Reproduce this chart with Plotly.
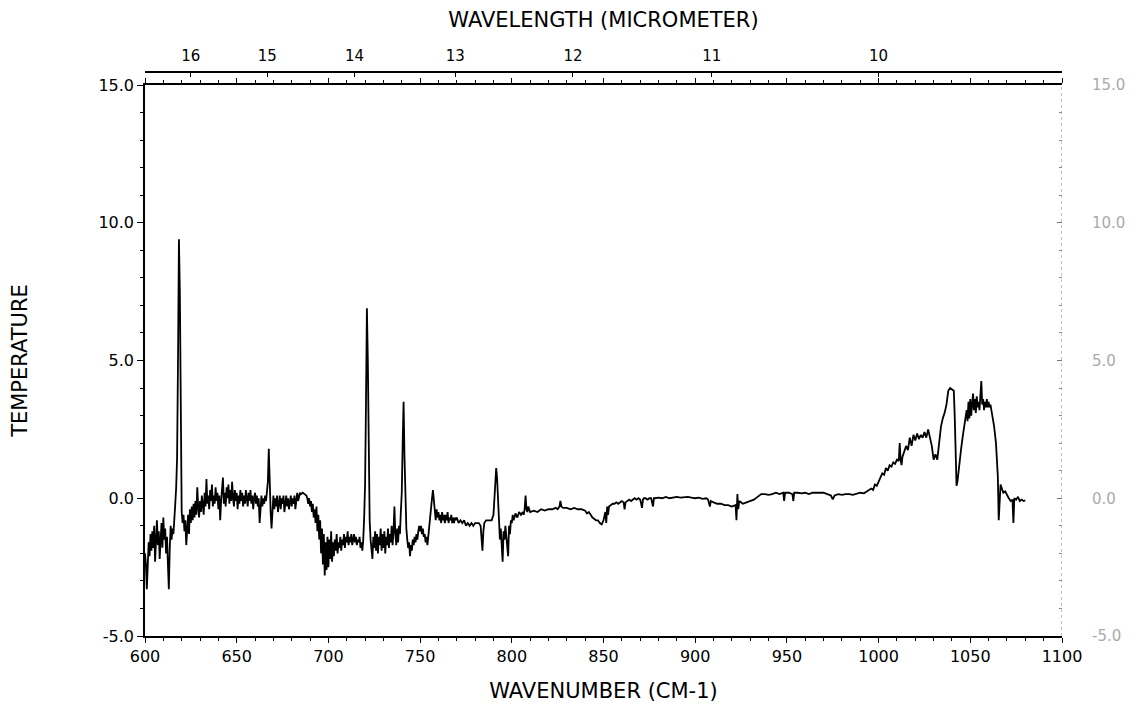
import plotly.graph_objects as go

# ---- data (wavenumber cm-1, temperature) ----
seg_600_640 = [
    (600.0, -2.0), (600.5, -2.4), (601.0, -3.3), (601.5, -2.2), (602.0, -1.6), (602.5, -2.1),
    (603.0, -1.3), (603.5, -1.9), (604.0, -1.2), (604.5, -1.8), (605.0, -1.0), (605.5, -2.3),
    (606.0, -1.4), (606.5, -0.8), (607.0, -1.7), (607.5, -1.2), (608.0, -2.2), (608.5, -1.3),
    (609.0, -0.9), (609.5, -1.8), (610.0, -0.7), (610.5, -1.5), (611.0, -1.1), (611.5, -2.0),
    (612.0, -1.4), (612.5, -2.4), (613.0, -3.3), (613.5, -1.8), (614.0, -1.0), (614.5, -1.5),
    (615.0, -1.1), (615.5, -1.3), (616.0, -0.9), (616.5, -0.2), (617.0, 0.4), (617.5, 1.5),
    (618.0, 5.0), (618.5, 9.4), (619.0, 7.5), (619.5, 3.0), (620.0, -0.5), (620.5, -0.9),
    (621.0, -0.6), (621.5, -1.2), (622.0, -0.8), (622.5, -1.7), (623.0, -1.1), (623.5, -0.6),
    (624.0, -1.3), (624.5, -0.4), (625.0, -0.9), (625.5, -0.3), (626.0, -0.8), (626.5, -0.2),
    (627.0, -0.7), (627.5, -0.1), (628.0, -0.6), (628.5, 0.4), (629.0, -0.3), (629.5, -0.7),
    (630.0, -0.1), (630.5, -0.5), (631.0, 0.1), (631.5, -0.4), (632.0, -0.6), (632.5, 0.2),
    (633.0, -0.3), (633.5, 0.7), (634.0, -0.2), (634.5, 0.1), (635.0, -0.4), (635.5, 0.3),
    (636.0, -0.1), (636.5, 0.5), (637.0, -0.3), (637.5, 0.1), (638.0, -0.2), (638.5, 0.4),
    (639.0, -0.1), (639.5, 0.2),
]
seg_640_690 = [
    (640.0, -0.4), (640.5, 0.1), (641.0, -0.8), (641.5, -0.1), (642.0, 0.3), (642.5, 0.75),
    (643.0, -0.2), (643.5, 0.2), (644.0, -0.3), (644.5, 0.4), (645.0, 0.0), (645.5, 0.5),
    (646.0, -0.2), (646.5, 0.3), (647.0, -0.1), (647.5, 0.6), (648.0, 0.0), (648.5, -0.3),
    (649.0, 0.3), (649.5, -0.1), (650.0, 0.2), (650.5, -0.4), (651.0, 0.1), (651.5, -0.2),
    (652.0, 0.3), (652.5, -0.1), (653.0, 0.2), (653.5, -0.3), (654.0, 0.1), (654.5, -0.2),
    (655.0, 0.3), (655.5, 0.0), (656.0, -0.3), (656.5, 0.2), (657.0, -0.1), (657.5, 0.3),
    (658.0, -0.2), (658.5, 0.1), (659.0, -0.4), (659.5, 0.0), (660.0, 0.2), (660.5, -0.2),
    (661.0, 0.1), (661.5, -0.3), (662.0, 0.0), (662.5, -0.9), (663.0, -0.2), (663.5, 0.1),
    (664.0, -0.3), (664.5, 0.0), (665.0, -0.2), (665.5, 0.1), (666.0, -0.1), (666.5, 0.2),
    (667.0, 0.6), (667.5, 1.8), (668.0, 0.3), (668.5, -0.5), (669.0, -1.1), (669.5, -0.3),
    (670.0, 0.1), (670.5, -0.4), (671.0, 0.0), (671.5, -0.3), (672.0, 0.1), (672.5, -0.5),
    (673.0, -0.1), (673.5, 0.1), (674.0, -0.4), (674.5, 0.0), (675.0, -0.2), (675.5, 0.1),
    (676.0, -0.5), (676.5, -0.1), (677.0, 0.1), (677.5, -0.3), (678.0, 0.0), (678.5, -0.4),
    (679.0, -0.1), (679.5, 0.1), (680.0, -0.3), (680.5, 0.0), (681.0, -0.2), (681.5, 0.1),
    (682.0, -0.4), (682.5, 0.0), (683.0, 0.2), (683.5, -0.1), (684.0, 0.1), (684.5, 0.2),
    (685.0, 0.15), (686.0, 0.2), (687.0, 0.15), (688.0, 0.1), (688.5, 0.0), (689.0, -0.2),
    (689.5, 0.0),
]
seg_690_740 = [
    (690.0, -0.3), (690.5, -0.1), (691.0, -0.5), (691.5, -0.2), (692.0, -0.7), (692.5, -0.4),
    (693.0, -0.9), (693.5, -0.3), (694.0, -1.2), (694.5, -0.6), (695.0, -1.5), (695.5, -0.8),
    (696.0, -2.0), (696.5, -1.1), (697.0, -2.4), (697.5, -1.3), (698.0, -2.8), (698.5, -1.6),
    (699.0, -2.6), (699.5, -1.4), (700.0, -2.5), (700.5, -1.5), (701.0, -2.2), (701.5, -1.2),
    (702.0, -2.3), (702.5, -1.6), (703.0, -2.1), (703.5, -1.5), (704.0, -1.9), (704.5, -1.3),
    (705.0, -2.0), (705.5, -1.6), (706.0, -1.8), (706.5, -1.4), (707.0, -1.9), (707.5, -1.5),
    (708.0, -1.7), (708.5, -1.3), (709.0, -1.8), (709.5, -1.4), (710.0, -1.6), (710.5, -1.2),
    (711.0, -1.7), (711.5, -1.4), (712.0, -1.6), (712.5, -1.3), (713.0, -1.7), (713.5, -1.5),
    (714.0, -1.3), (714.5, -1.6), (715.0, -1.4), (715.5, -1.7), (716.0, -1.5), (716.5, -1.6),
    (717.0, -1.4), (717.5, -1.8), (718.0, -1.6), (718.5, -1.9), (719.0, -1.5), (719.5, -0.7),
    (720.0, 0.5), (720.5, 3.5), (721.0, 6.9), (721.5, 5.0), (722.0, 1.0), (722.5, -0.8),
    (723.0, -1.5), (723.5, -1.9), (724.0, -2.2), (724.5, -1.4), (725.0, -1.8), (725.5, -1.2),
    (726.0, -1.9), (726.5, -1.3), (727.0, -2.0), (727.5, -1.4), (728.0, -1.7), (728.5, -1.1),
    (729.0, -1.9), (729.5, -1.3), (730.0, -1.8), (730.5, -1.2), (731.0, -2.0), (731.5, -1.4),
    (732.0, -1.7), (732.5, -1.1), (733.0, -1.8), (733.5, -1.3), (734.0, -1.6), (734.5, -1.0),
    (735.0, -1.7), (735.5, -1.2), (736.0, -0.3), (736.5, -1.3), (737.0, -1.7), (737.5, -1.1),
    (738.0, -1.6), (738.5, -1.0), (739.0, -1.3), (739.5, -0.5),
]
seg_740_800 = [
    (740.0, 0.2), (740.5, 2.0), (741.0, 3.5), (741.5, 1.5), (742.0, -0.5), (742.5, -1.1),
    (743.0, -1.5), (743.5, -1.8), (744.0, -1.6), (744.5, -2.1), (745.0, -1.7), (745.5, -1.9),
    (746.0, -1.5), (746.5, -1.7), (747.0, -1.4), (747.5, -1.6), (748.0, -1.3), (748.5, -1.5),
    (749.0, -1.2), (749.5, -1.0), (750.0, -1.2), (750.5, -1.0), (751.0, -1.3), (751.5, -1.1),
    (752.0, -1.4), (752.5, -1.3), (753.0, -1.6), (753.5, -1.4), (754.0, -1.7), (754.5, -1.3),
    (755.0, -0.9), (755.5, -0.5), (756.0, -0.3), (756.5, 0.0), (757.0, 0.3), (757.5, -0.2),
    (758.0, -0.5), (758.5, -0.8), (759.0, -0.4), (759.5, -0.7),
    (760.0, -0.5), (760.5, -0.8), (761.0, -0.6), (761.5, -0.9), (762.0, -0.5), (762.5, -0.8),
    (763.0, -0.6), (763.5, -0.9), (764.0, -0.6), (764.5, -0.8), (765.0, -0.5), (765.5, -0.9),
    (766.0, -0.7), (766.5, -0.8), (767.0, -0.6), (767.5, -0.9), (768.0, -0.7), (768.5, -0.9),
    (769.0, -0.7), (769.5, -0.8), (770.0, -0.7), (771.0, -0.9), (772.0, -0.8), (773.0, -0.9),
    (774.0, -0.8), (775.0, -1.0), (776.0, -0.9), (777.0, -1.0), (778.0, -0.9), (779.0, -1.0),
    (780.0, -0.9), (781.0, -0.9), (782.0, -0.9), (783.0, -1.0), (784.0, -1.9), (784.5, -1.2),
    (785.0, -0.9), (786.0, -0.8), (787.0, -0.8), (788.0, -0.8), (789.0, -0.8), (790.0, -0.6),
    (790.5, 0.0), (791.0, 0.8), (791.5, 1.1), (792.0, 0.7), (792.5, -0.3), (793.0, -0.8),
    (793.5, -1.5), (794.0, -1.1), (794.5, -2.0), (795.0, -2.3), (795.5, -1.2), (796.0, -1.5),
    (796.5, -1.0), (797.0, -1.3), (797.5, -1.6), (798.0, -2.1), (798.5, -1.0), (799.0, -1.3),
    (799.5, -0.8),
]
seg_800_900 = [
    (800.0, -0.9), (800.5, -0.6), (801.0, -0.8), (802.0, -0.55), (803.0, -0.7), (804.0, -0.5),
    (805.0, -0.6), (806.0, -0.5), (806.5, -0.6), (807.0, -0.4), (807.5, 0.1), (808.0, -0.4),
    (808.5, -0.5), (809.0, -0.3), (810.0, -0.5), (812.0, -0.45), (814.0, -0.5), (816.0, -0.4),
    (818.0, -0.45), (820.0, -0.4), (822.0, -0.4), (824.0, -0.35), (825.0, -0.4), (826.0, -0.3),
    (826.5, -0.1), (827.0, -0.3), (828.0, -0.35), (830.0, -0.35), (832.0, -0.4), (834.0, -0.35),
    (836.0, -0.4), (838.0, -0.4), (840.0, -0.45), (841.0, -0.55), (842.0, -0.5), (843.0, -0.6),
    (844.0, -0.7), (845.0, -0.75), (846.0, -0.8), (847.0, -0.8), (848.0, -0.9), (849.0, -0.95),
    (850.0, -0.8), (851.0, -0.5), (851.5, -0.9), (852.0, -0.3), (852.5, -0.6), (853.0, -0.3),
    (854.0, -0.25), (855.0, -0.2), (856.0, -0.2), (857.0, -0.15), (858.0, -0.2), (859.0, -0.15),
    (860.0, -0.1), (861.0, -0.15), (861.5, -0.4), (862.0, -0.15), (863.0, -0.1), (864.0, -0.05),
    (865.0, -0.1), (866.0, -0.05), (867.0, 0.0), (868.0, -0.05), (869.0, 0.0), (870.0, -0.05),
    (871.0, -0.35), (871.5, -0.05), (872.0, 0.0), (873.0, 0.0), (874.0, -0.05), (875.0, 0.0),
    (876.0, 0.0), (877.0, -0.3), (877.5, 0.0), (878.0, 0.0), (880.0, 0.02), (882.0, 0.0),
    (884.0, 0.05), (886.0, 0.0), (888.0, 0.02), (890.0, 0.05), (892.0, 0.02), (894.0, 0.03),
    (896.0, 0.05), (898.0, 0.02),
]
seg_900_1000 = [
    (900.0, 0.0), (902.0, 0.02), (904.0, -0.02), (906.0, 0.0), (907.0, -0.05), (908.0, -0.3),
    (908.5, -0.1), (910.0, -0.15), (912.0, -0.2), (914.0, -0.2), (916.0, -0.25), (918.0, -0.25),
    (920.0, -0.3), (922.0, -0.25), (922.5, -0.8), (923.0, 0.15), (923.5, -0.4), (924.0, -0.1),
    (926.0, -0.2), (928.0, -0.15), (930.0, -0.1), (932.0, -0.05), (934.0, 0.05), (936.0, 0.15),
    (938.0, 0.15), (940.0, 0.12), (942.0, 0.15), (944.0, 0.2), (946.0, 0.15), (948.0, 0.2),
    (948.5, -0.1), (949.0, 0.2), (951.0, 0.2), (953.0, 0.15), (953.5, -0.1), (954.0, 0.2),
    (956.0, 0.2), (958.0, 0.18), (960.0, 0.2), (962.0, 0.15), (964.0, 0.2), (966.0, 0.2),
    (968.0, 0.18), (970.0, 0.2), (972.0, 0.15), (974.0, 0.1), (975.0, -0.04), (976.0, 0.1),
    (978.0, 0.15), (980.0, 0.12), (982.0, 0.15), (984.0, 0.15), (986.0, 0.12), (988.0, 0.15),
    (990.0, 0.2), (992.0, 0.18), (994.0, 0.25), (996.0, 0.35), (997.0, 0.3), (998.0, 0.5),
    (999.0, 0.45),
]
seg_1000_1080 = [
    (1000.0, 0.6), (1001.0, 0.75), (1002.0, 0.9), (1003.0, 0.85), (1004.0, 1.1), (1005.0, 1.0),
    (1006.0, 1.2), (1007.0, 1.15), (1008.0, 1.3), (1009.0, 1.25), (1010.0, 1.4), (1011.0, 1.35),
    (1011.5, 2.0), (1012.0, 1.4), (1012.5, 1.2), (1013.0, 1.5), (1014.0, 1.7), (1015.0, 1.9),
    (1016.0, 1.75), (1017.0, 2.2), (1018.0, 1.9), (1019.0, 2.3), (1020.0, 2.1), (1021.0, 2.35),
    (1022.0, 2.15), (1023.0, 2.3), (1024.0, 2.2), (1025.0, 2.4), (1026.0, 2.2), (1027.0, 2.5),
    (1028.0, 2.2), (1029.0, 1.9), (1030.0, 1.4), (1031.0, 1.6), (1032.0, 1.4), (1033.0, 2.0),
    (1034.0, 2.6), (1035.0, 2.9), (1036.0, 3.1), (1037.0, 3.4), (1038.0, 3.9), (1039.0, 4.0),
    (1040.0, 3.95), (1041.0, 3.9), (1041.5, 3.0), (1042.0, 1.2), (1042.5, 0.45), (1043.0, 0.6),
    (1044.0, 1.3), (1045.0, 1.8), (1046.0, 2.3), (1047.0, 2.7), (1048.0, 3.2), (1048.5, 2.8),
    (1049.0, 3.5), (1049.5, 2.9), (1050.0, 3.6), (1050.5, 3.0), (1051.0, 3.4), (1051.5, 3.8),
    (1052.0, 3.2), (1052.5, 3.6), (1053.0, 3.1), (1053.5, 3.7), (1054.0, 3.3), (1054.5, 3.5),
    (1055.0, 3.2), (1055.5, 3.6), (1056.0, 4.25), (1056.5, 3.4), (1057.0, 3.6), (1057.5, 3.2),
    (1058.0, 3.5), (1058.5, 3.3), (1059.0, 3.6), (1059.5, 3.3), (1060.0, 3.5), (1060.5, 3.3),
    (1061.0, 3.4), (1062.0, 3.0), (1063.0, 2.6), (1064.0, 2.0), (1064.5, 1.5), (1065.0, 0.8),
    (1065.5, -0.8), (1066.0, 0.1), (1066.5, 0.5), (1067.0, 0.4), (1068.0, 0.2), (1069.0, 0.25),
    (1070.0, 0.1), (1071.0, 0.0), (1072.0, -0.1), (1073.0, -0.05), (1073.5, -0.9), (1074.0, 0.0),
    (1075.0, -0.05), (1076.0, 0.05), (1077.0, -0.1), (1078.0, -0.05), (1079.0, -0.1), (1080.0, -0.08),
]

x_ticks = [600, 650, 700, 750, 800, 850, 900, 950, 1000, 1050, 1100]
y_ticks = [-5, 0, 5, 10, 15]
y_labels = ["-5.0", "0.0", "5.0", "10.0", "15.0"]
wavelength_labels = [16, 15, 14, 13, 12, 11, 10]   # micrometers

segments = [seg_600_640, seg_640_690, seg_690_740, seg_740_800,
            seg_800_900, seg_900_1000, seg_1000_1080]
wavenumber = [p[0] for s in segments for p in s]
temperature = [p[1] for s in segments for p in s]

FONT = "DejaVu Sans"
# the page body adds an 8px offset, so the figure is 8px smaller than the window
W, H = 1128, 699
ML, MR, MT, MB = 137, 74, 64, 71
plot_h = H - MT - MB
top_frac = (plot_h - 13) / plot_h

fig = go.Figure()
fig.add_trace(go.Scatter(x=wavenumber, y=temperature, mode="lines",
                         line=dict(color="black", width=1.8),
                         showlegend=False, hoverinfo="skip"))
# invisible trace to activate the secondary axes
fig.add_trace(go.Scatter(x=[wavenumber[0]], y=[temperature[0]], xaxis="x2", yaxis="y2",
                         mode="markers", marker=dict(opacity=0), showlegend=False,
                         hoverinfo="skip"))

fig.update_layout(
    width=W, height=H,
    margin=dict(l=ML, r=MR, t=MT, b=MB, autoexpand=False),
    paper_bgcolor="white", plot_bgcolor="white",
    font=dict(family=FONT, color="black"),
    xaxis=dict(
        range=[600, 1100], tickmode="array", tickvals=x_ticks,
        ticktext=[str(v) for v in x_ticks],
        ticks="outside", ticklen=5, tickwidth=1.3, tickcolor="black",
        minor=dict(dtick=10, ticks="outside", ticklen=3, tickwidth=1, tickcolor="black"),
        showline=True, linecolor="black", linewidth=1.5, mirror="ticks",
        showgrid=False, zeroline=False,
        tickfont=dict(size=16, family=FONT),
        title=dict(text="WAVENUMBER (CM-1)", font=dict(size=21, family=FONT), standoff=18),
        automargin=False,
    ),
    yaxis=dict(
        domain=[0, top_frac],
        range=[-5, 15], tickmode="array", tickvals=y_ticks, ticktext=y_labels,
        ticks="outside", ticklen=6, tickwidth=1.3, tickcolor="black",
        minor=dict(dtick=1, ticks="outside", ticklen=3, tickwidth=1, tickcolor="black"),
        showline=True, linecolor="black", linewidth=1.5,
        showgrid=False, zeroline=False,
        tickfont=dict(size=16, family=FONT),
        title=dict(text="TEMPERATURE", font=dict(size=21, family=FONT), standoff=66),
        automargin=False,
    ),
    xaxis2=dict(
        overlaying="x", side="top", anchor="free", position=1,
        range=[600, 1100], tickmode="array",
        tickvals=[10000.0 / w for w in wavelength_labels],
        ticktext=[str(w) for w in wavelength_labels],
        ticks="inside", ticklen=4, tickwidth=1.3, tickcolor="black",
        showline=True, linecolor="black", linewidth=1.5,
        showgrid=False, zeroline=False,
        tickfont=dict(size=15, family=FONT),
        ticklabelstandoff=4,
        title=dict(text="WAVELENGTH (MICROMETER)", font=dict(size=21, family=FONT), standoff=14),
        automargin=False,
    ),
    yaxis2=dict(
        overlaying="y", side="right", anchor="x",
        range=[-5, 15], tickmode="array", tickvals=y_ticks, ticktext=y_labels,
        ticks="inside", ticklen=5, tickwidth=1, tickcolor="#777777",
        minor=dict(dtick=1, ticks="inside", ticklen=3, tickwidth=1, tickcolor="#888888"),
        showline=False, showgrid=False, zeroline=False,
        tickfont=dict(size=15, family=FONT, color="#aaaaaa"),
        ticklabelstandoff=29,
        automargin=False,
    ),
    shapes=[dict(type="line", xref="x", yref="y domain", x0=1100, x1=1100, y0=0, y1=1,
                 line=dict(color="#888888", width=1, dash="dot"), layer="above")],
)

fig.write_html("out.html")
